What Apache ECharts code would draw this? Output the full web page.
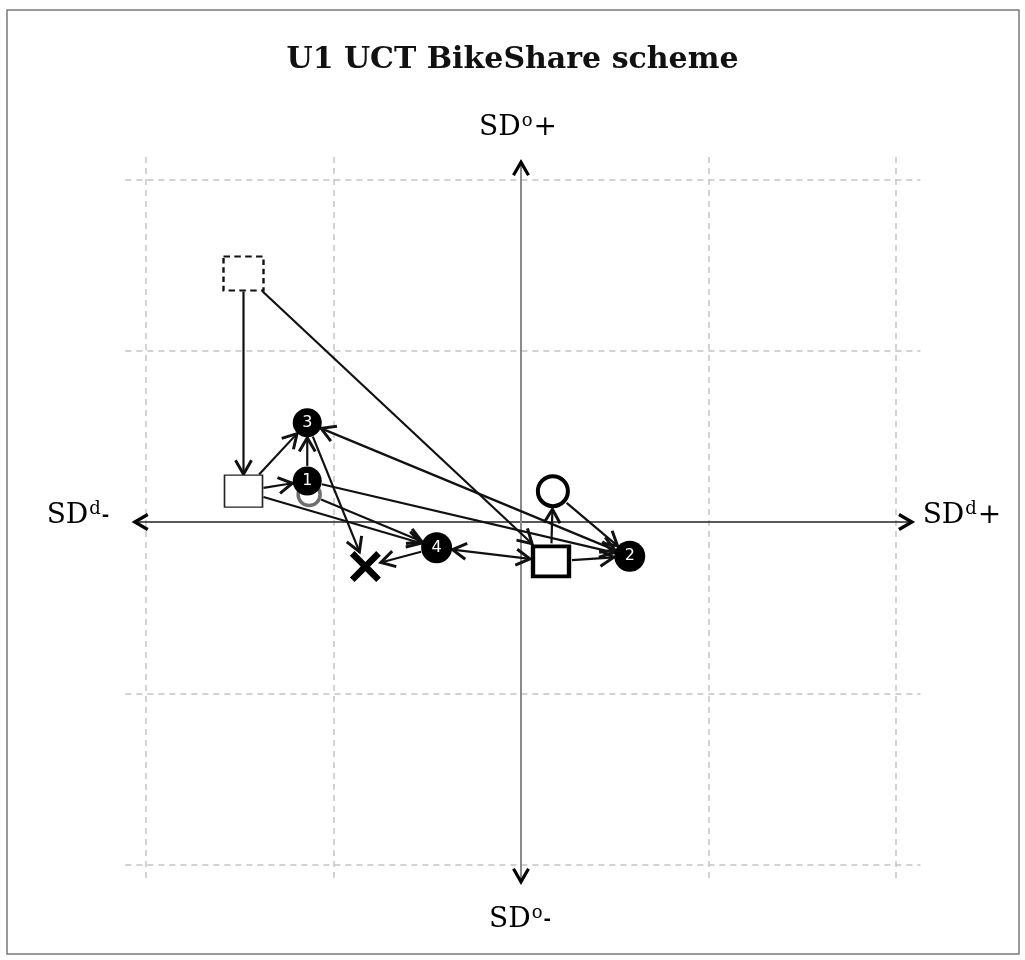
<!DOCTYPE html>
<html>
<head>
<meta charset="utf-8">
<title>U1 UCT BikeShare scheme</title>
<script src="https://cdn.jsdelivr.net/npm/echarts@6/dist/echarts.min.js"></script>
<style>
    html, body {margin: 0; padding: 0; background: #fff;}
    #mychart {width: 1025px; height: 960px;}
</style>
</head>
<body>
<div id="mychart"></div>
<script>
// positions, in axis units (-2 .. 2 each way)
var nodeNames = ['dashedSquare', 'square', 'greyCircle', '1', '3', 'cross', '4', 'boldSquare', 'boldCircle', '2'];
var nodeX = [-1.48, -1.48, -1.13, -1.14, -1.14, -0.83, -0.45, 0.16, 0.17, 0.58];
var nodeY = [1.45, 0.18, 0.16, 0.24, 0.58, -0.26, -0.15, -0.23, 0.18, -0.20];
var nodeLabels = ['', '', '', '1', '3', '', '4', '', '', '2'];

// from, to, arrow at from, arrow at to
var edges = [
    ['dashedSquare', 'square', 0, 1],
    ['dashedSquare', 'boldSquare', 0, 1],
    ['square', '3', 0, 1],
    ['square', '1', 0, 1],
    ['square', '4', 0, 1],
    ['1', '3', 0, 1],
    ['1', '2', 0, 1],
    ['3', 'cross', 0, 1],
    ['3', '2', 1, 1],
    ['greyCircle', '4', 0, 1],
    ['4', 'cross', 0, 1],
    ['4', 'boldSquare', 1, 1],
    ['boldSquare', 'boldCircle', 0, 1],
    ['boldCircle', '2', 0, 1],
    ['boldSquare', '2', 0, 1]
];

var gridTicks = [-2, -1, 1, 2];
var gridReach = [-2.11, 2.13];     // dashed lines run a little past the outer ticks
var axisReachX = [-2.06, 2.085];
var axisReachY = [-2.10, 2.10];

var nodeStyle = {
    dashedSquare: {symbol: 'rect', size: [40, 34], fill: '#fff', stroke: '#111', width: 2.2, type: [6, 4], clip: [20, 17]},
    square: {symbol: 'rect', size: [38, 32], fill: '#fff', stroke: '#222', width: 1.5, type: 'solid', clip: [19, 16]},
    greyCircle: {symbol: 'circle', size: 22, fill: 'rgba(0,0,0,0)', stroke: '#6e6e6e', width: 3.5, type: 'solid', clip: 12},
    '1': {symbol: 'circle', size: 29, fill: '#000', stroke: '#000', width: 0, type: 'solid', clip: 14},
    '3': {symbol: 'circle', size: 29, fill: '#000', stroke: '#000', width: 0, type: 'solid', clip: 14},
    '4': {symbol: 'circle', size: 31, fill: '#000', stroke: '#000', width: 0, type: 'solid', clip: 15},
    '2': {symbol: 'circle', size: 31, fill: '#000', stroke: '#000', width: 0, type: 'solid', clip: 15},
    cross: {symbol: 'path://M0,3 L3,0 L10,7 L17,0 L20,3 L13,10 L20,17 L17,20 L10,13 L3,20 L0,17 L7,10 Z', size: 31, fill: '#000', stroke: '#000', width: 0, type: 'solid', clip: 15},
    boldSquare: {symbol: 'rect', size: [36, 30], fill: '#fff', stroke: '#000', width: 4, type: 'solid', clip: [20, 17]},
    boldCircle: {symbol: 'circle', size: 30, fill: '#fff', stroke: '#000', width: 4, type: 'solid', clip: 17}
};

function idx(name) {
    return nodeNames.indexOf(name);
}

// distance from a node centre to its outline along (dx, dy)
function clipDist(name, dx, dy) {
    var c = nodeStyle[name].clip;
    if (typeof c === 'number') return c;
    var len = Math.sqrt(dx * dx + dy * dy);
    var ux = Math.abs(dx) / len, uy = Math.abs(dy) / len;
    var tx = ux > 0 ? c[0] / ux : 1e9;
    var ty = uy > 0 ? c[1] / uy : 1e9;
    return Math.min(tx, ty);
}

function chevron(tip, from, size, lw, color) {
    var dx = from[0] - tip[0], dy = from[1] - tip[1];
    var len = Math.sqrt(dx * dx + dy * dy);
    dx /= len; dy /= len;
    var a = Math.PI / 6;
    var p1 = [tip[0] + size * (dx * Math.cos(a) - dy * Math.sin(a)), tip[1] + size * (dx * Math.sin(a) + dy * Math.cos(a))];
    var p2 = [tip[0] + size * (dx * Math.cos(-a) - dy * Math.sin(-a)), tip[1] + size * (dx * Math.sin(-a) + dy * Math.cos(-a))];
    return {
        type: 'polyline',
        shape: {points: [p1, tip, p2]},
        style: {stroke: color, lineWidth: lw, fill: null, lineJoin: 'miter'}
    };
}

var edgeData = edges.map(function (e) {
    return [idx(e[0]), idx(e[1]), e[2], e[3]];
});

function renderEdge(params, api) {
    var e = edges[params.dataIndex];
    var a = api.coord([nodeX[idx(e[0])], nodeY[idx(e[0])]]);
    var b = api.coord([nodeX[idx(e[1])], nodeY[idx(e[1])]]);
    var dx = b[0] - a[0], dy = b[1] - a[1];
    var len = Math.sqrt(dx * dx + dy * dy);
    var ra = clipDist(e[0], dx, dy) + 1;
    var rb = clipDist(e[1], dx, dy) + 1;
    var p = [a[0] + dx / len * ra, a[1] + dy / len * ra];
    var q = [b[0] - dx / len * rb, b[1] - dy / len * rb];
    var children = [{
        type: 'line',
        shape: {x1: p[0], y1: p[1], x2: q[0], y2: q[1]},
        style: {stroke: '#111', lineWidth: 2.2}
    }];
    if (e[2]) children.push(chevron(p, q, 16, 3, '#111'));
    if (e[3]) children.push(chevron(q, p, 16, 3, '#111'));
    return {type: 'group', children: children};
}

// main axes with an open arrow at each end
var axisLines = [
    [[axisReachX[0], 0], [axisReachX[1], 0], '#222', 1.5],
    [[0, axisReachY[0]], [0, axisReachY[1]], '#8a8a8a', 2]
];

function renderAxis(params, api) {
    var l = axisLines[params.dataIndex];
    var p = api.coord(l[0]);
    var q = api.coord(l[1]);
    return {
        type: 'group',
        children: [
            {type: 'line', shape: {x1: p[0], y1: p[1], x2: q[0], y2: q[1]}, style: {stroke: l[2], lineWidth: l[3]}},
            chevron(p, q, 15, 3.2, '#000'),
            chevron(q, p, 15, 3.2, '#000')
        ]
    };
}

var gridLines = [];
gridTicks.forEach(function (t) {
    gridLines.push({coords: [[gridReach[0], t], [gridReach[1], t]]});
    gridLines.push({coords: [[t, gridReach[1]], [t, gridReach[0] + 0.01]]});
});

var nodeSeries = nodeNames.map(function (name, i) {
    var s = nodeStyle[name];
    return {
        type: 'scatter',
        z: 5,
        symbol: s.symbol,
        symbolSize: s.size,
        itemStyle: {color: s.fill, borderColor: s.stroke, borderWidth: s.width, borderType: s.type, opacity: 1},
        label: {
            show: nodeLabels[i] !== '',
            position: 'inside',
            formatter: nodeLabels[i],
            color: '#fff',
            fontFamily: 'DejaVu Sans',
            fontSize: 16
        },
        silent: true,
        data: [[nodeX[i], nodeY[i]]]
    };
});

var sdFont = 'DejaVu Serif';
function axisLabel(text, x, y) {
    return {
        type: 'text',
        x: x,
        y: y,
        style: {
            text: text,
            align: 'center',
            verticalAlign: 'middle',
            rich: {
                n: {fontFamily: sdFont, fontSize: 28, color: '#111', lineHeight: 34},
                s: {fontFamily: sdFont, fontSize: 18, color: '#111', lineHeight: 34, padding: [0, 1, 14, 1]},
                m: {fontFamily: sdFont, fontSize: 18, color: '#111', lineHeight: 34, fontWeight: 'bold'}
            }
        }
    };
}

var option = {
    animation: false,
    title: {
        text: 'U1 UCT BikeShare scheme',
        left: 'center',
        top: 40,
        textStyle: {fontFamily: 'DejaVu Serif', fontWeight: 'bold', fontSize: 30, color: '#111'}
    },
    grid: {left: 89.75, right: 72.75, top: 128, bottom: 44},
    xAxis: {type: 'value', min: -2.3, max: 2.3, show: false, splitLine: {show: false}},
    yAxis: {type: 'value', min: -2.3, max: 2.3, show: false, splitLine: {show: false}},
    graphic: [
        {type: 'rect', shape: {x: 7, y: 10, width: 1012, height: 944}, style: {fill: null, stroke: '#7a7a7a', lineWidth: 1.5}},
        axisLabel('{n|SD}{s|o}{n|+}', 518, 128),
        axisLabel('{n|SD}{s|o}{m|-}', 520, 920),
        axisLabel('{n|SD}{s|d}{m|-}', 78, 516),
        axisLabel('{n|SD}{s|d}{n|+}', 962, 516)
    ],
    series: [
        {
            type: 'lines',
            coordinateSystem: 'cartesian2d',
            silent: true,
            z: 1,
            lineStyle: {color: '#c4c4c4', width: 1.5, type: [6, 5], opacity: 1},
            data: gridLines
        },
        {
            type: 'custom',
            z: 2,
            silent: true,
            renderItem: renderAxis,
            data: axisLines.map(function (l, i) { return [i]; })
        },
        {
            type: 'custom',
            z: 3,
            silent: true,
            renderItem: renderEdge,
            data: edgeData
        }
    ].concat(nodeSeries)
};

var mychart = echarts.init(document.getElementById('mychart'));
mychart.setOption(option);
</script>
</body>
</html>
